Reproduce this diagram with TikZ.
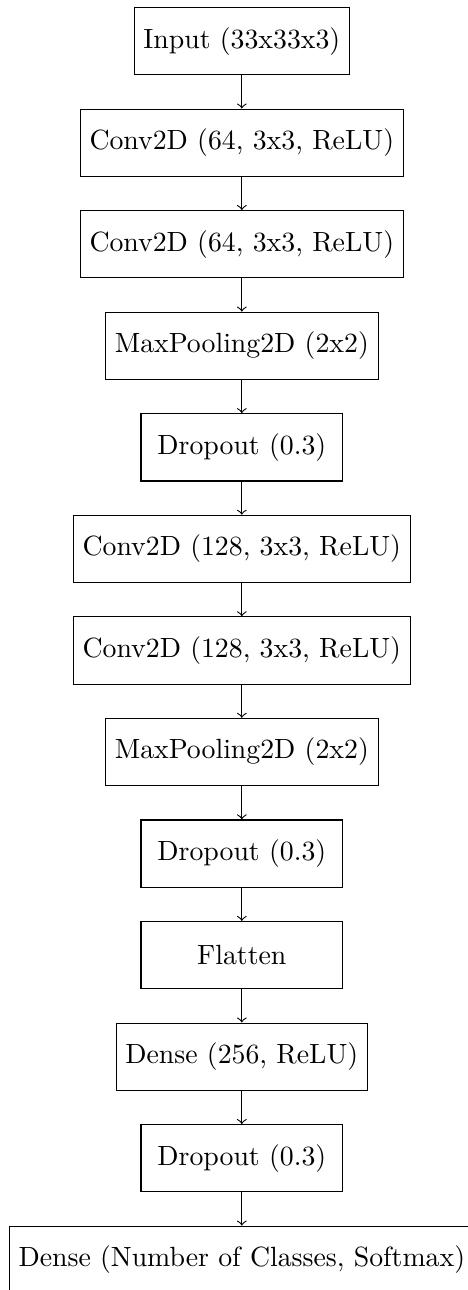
\documentclass[tikz,border=0pt]{standalone}
\usepackage{tikz}
\usetikzlibrary{positioning}
\tikzset{
  layer/.style={draw, rectangle, minimum width=2.55cm, minimum height=0.85cm, align=center},
  arrow/.style={->},
}

\begin{document}
\begin{tikzpicture}[node distance=0.42cm]
\useasboundingbox (-87.0pt,14.8pt) rectangle (81.3pt,-449.3pt);
% layers, top to bottom
\node[layer] (input) at (0,0) {Input (33x33x3)};
\node[layer, below=of input] (conv1) {Conv2D (64, 3x3, ReLU)};
\node[layer, below=of conv1] (conv2) {Conv2D (64, 3x3, ReLU)};
\node[layer, below=of conv2] (pool1) {MaxPooling2D (2x2)};
\node[layer, below=of pool1] (drop1) {Dropout (0.3)};
\node[layer, below=of drop1] (conv3) {Conv2D (128, 3x3, ReLU)};
\node[layer, below=of conv3] (conv4) {Conv2D (128, 3x3, ReLU)};
\node[layer, below=of conv4] (pool2) {MaxPooling2D (2x2)};
\node[layer, below=of pool2] (drop2) {Dropout (0.3)};
\node[layer, below=of drop2] (flat) {Flatten};
\node[layer, below=of flat] (dense1) {Dense (256, ReLU)};
\node[layer, below=of dense1] (drop3) {Dropout (0.3)};
\node[layer, below=of drop3] (dense2) {Dense (Number of Classes, Softmax)};
% connections
\foreach \a/\b in {input/conv1, conv1/conv2, conv2/pool1, pool1/drop1, drop1/conv3, conv3/conv4, conv4/pool2, pool2/drop2, drop2/flat, flat/dense1, dense1/drop3, drop3/dense2}
  \draw[arrow] (\a) -- (\b);
\end{tikzpicture}
\end{document}
